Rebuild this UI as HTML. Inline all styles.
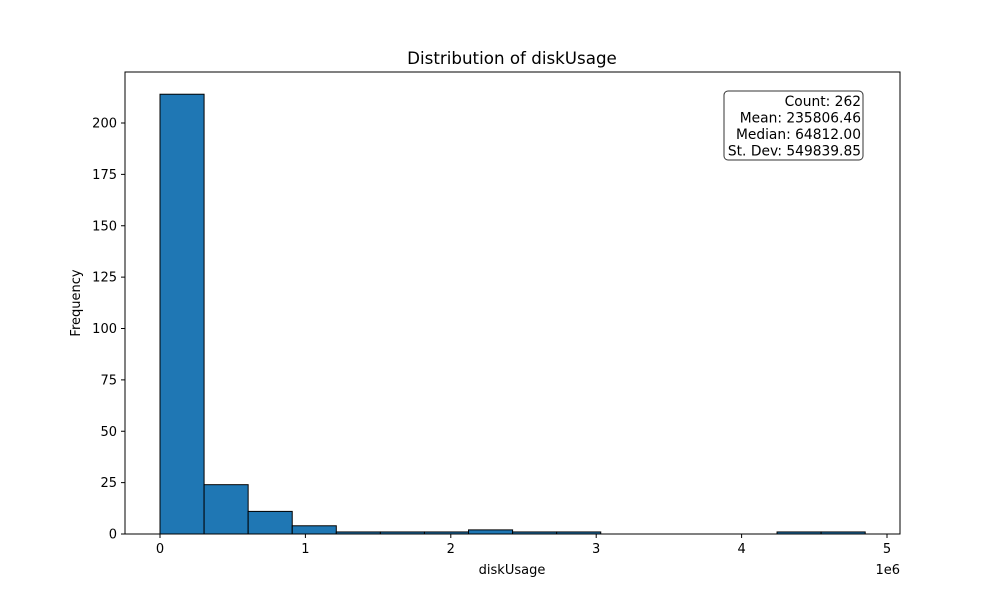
<!DOCTYPE html>
<html><head><meta charset="utf-8"><style>
body{margin:0;background:#fff;}
svg text{font-family:"DejaVu Sans","Liberation Sans",sans-serif;fill:#000;}
</style></head><body>
<svg id="chart" width="1000" height="600" xmlns="http://www.w3.org/2000/svg">
<rect width="1000" height="600" fill="#fff"/>
<g id="bars"></g>
<rect x="125" y="72" width="775" height="462" fill="none" stroke="#000" stroke-width="1"/>
<g id="xticks"></g><g id="yticks"></g>
<text x="512" y="64" font-size="16.7" text-anchor="middle">Distribution of diskUsage</text>
<text x="512" y="574" font-size="13" text-anchor="middle">diskUsage</text>
<text x="900" y="574" font-size="13" text-anchor="end">1e6</text>
<text x="80" y="303" font-size="13" text-anchor="middle" transform="rotate(-90 80 303)">Frequency</text>
<g>
<rect x="724" y="91" width="139" height="69" rx="4" fill="#fff" stroke="#333" stroke-width="1"/>
<text x="861" y="106" font-size="13.8" text-anchor="end">Count: 262</text>
<text x="861" y="122.5" font-size="13.8" text-anchor="end">Mean: 235806.46</text>
<text x="861" y="139" font-size="13.8" text-anchor="end">Median: 64812.00</text>
<text x="861" y="155.5" font-size="13.8" text-anchor="end">St. Dev: 549839.85</text>
</g>
</svg>
<script>
const binStart = 0;
const binWidth = 303125;
const counts = [214,24,11,4,1,1,1,2,1,1,0,0,0,0,1,1];
const xTicks = [0,1,2,3,4,5];
const yTicks = [0,25,50,75,100,125,150,175,200];
const NS="http://www.w3.org/2000/svg";
const x = v => 160 + v/1e6*145.4;
const y = v => 534 - v*2.055;
function mk(tag, attrs, parent){const e=document.createElementNS(NS,tag);for(const k in attrs)e.setAttribute(k,attrs[k]);parent.appendChild(e);return e;}
const bars=document.getElementById('bars');
counts.forEach((c,i)=>{
  if(c<=0)return;
  const x0=x(binStart+i*binWidth), x1=x(binStart+(i+1)*binWidth);
  const r=mk('rect',{x:x0,y:y(c),width:x1-x0,height:y(0)-y(c),fill:'#1f77b4',stroke:'#000','stroke-width':1},bars);
  
  
});
const xt=document.getElementById('xticks');
xTicks.forEach(t=>{
  const g=mk('g',{},xt);
  
  
  mk('line',{x1:x(t*1e6),x2:x(t*1e6),y1:534,y2:538,stroke:'#000'},g);
  const tx=mk('text',{x:x(t*1e6),y:553,'font-size':13,'text-anchor':'middle'},g);tx.textContent=t;
});
const yt=document.getElementById('yticks');
yTicks.forEach(t=>{
  const g=mk('g',{},yt);
  
  
  mk('line',{x1:121,x2:125,y1:y(t),y2:y(t),stroke:'#000'},g);
  const tx=mk('text',{x:117,y:y(t)+4.5,'font-size':13,'text-anchor':'end'},g);tx.textContent=t;
});
</script>
</body></html>
